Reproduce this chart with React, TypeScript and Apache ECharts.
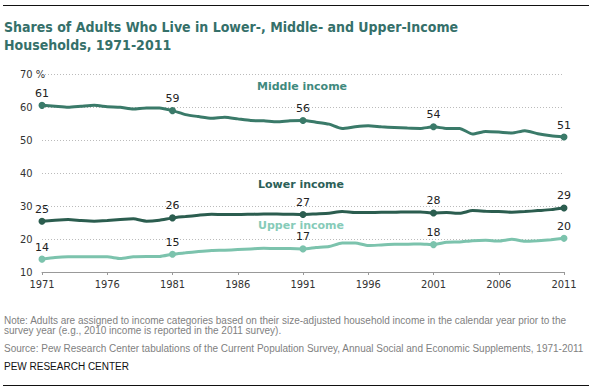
import React, { useEffect, useRef } from "react";
import * as echarts from "echarts";

const years = [
  "1971", "1972", "1973", "1974", "1975", "1976", "1977", "1978", "1979", "1980",
  "1981", "1982", "1983", "1984", "1985", "1986", "1987", "1988", "1989", "1990",
  "1991", "1992", "1993", "1994", "1995", "1996", "1997", "1998", "1999", "2000",
  "2001", "2002", "2003", "2004", "2005", "2006", "2007", "2008", "2009", "2010",
  "2011",
];

const middleIncome = [
  60.5, 60.2, 59.9, 60.2, 60.5, 60.1, 59.9, 59.4, 59.7, 59.7,
  58.9, 57.7, 57.1, 56.6, 56.9, 56.4, 55.9, 55.8, 55.5, 55.8,
  55.9, 55.4, 54.8, 53.5, 54.0, 54.3, 54.0, 53.8, 53.6, 53.5,
  54.0, 53.5, 53.5, 51.8, 52.6, 52.4, 52.1, 52.8, 51.9, 51.3,
  50.9,
];

const lowerIncome = [
  25.4, 25.7, 25.9, 25.6, 25.4, 25.6, 25.9, 26.1, 25.4, 25.7,
  26.4, 26.8, 27.2, 27.5, 27.4, 27.4, 27.5, 27.6, 27.6, 27.5,
  27.4, 27.6, 27.8, 28.3, 28.0, 28.0, 28.1, 28.1, 28.2, 28.2,
  27.9, 28.0, 27.8, 28.6, 28.4, 28.3, 28.1, 28.3, 28.6, 28.9,
  29.4,
];

const upperIncome = [
  13.9, 14.4, 14.6, 14.6, 14.6, 14.6, 14.1, 14.6, 14.7, 14.7,
  15.4, 15.8, 16.2, 16.5, 16.6, 16.8, 17.0, 17.2, 17.1, 17.1,
  17.0, 17.4, 17.7, 18.8, 18.8, 18.0, 18.2, 18.4, 18.4, 18.5,
  18.3, 19.0, 19.1, 19.5, 19.6, 19.4, 19.9, 19.3, 19.5, 19.8,
  20.2,
];

const seriesNames = ["Middle income", "Lower income", "Upper income"];
const labeledYears = ["1971", "1981", "1991", "2001", "2011"];

const titleLines = [
  "Shares of Adults Who Live in Lower-, Middle- and Upper-Income",
  "Households, 1971-2011",
];
const noteLines = [
  "Note: Adults are assigned to income categories based on their size-adjusted household income in the calendar year prior to the",
  "survey year (e.g., 2010 income is reported in the 2011 survey).",
];
const sourceLine =
  "Source: Pew Research Center tabulations of the Current Population Survey, Annual Social and Economic Supplements, 1971-2011";
const creditLine = "PEW RESEARCH CENTER";

const COLORS = ["#3a7a69", "#2b5d4f", "#7cc3ad"];
const NAME_COLORS = ["#3f8a7e", "#2c5f58", "#86cbb8"];

export default function App() {
  const ref = useRef<HTMLDivElement>(null);

  useEffect(() => {
    if (!ref.current) return;
    const chart = echarts.init(ref.current, null, { renderer: "svg" });

    const makeSeries = (name: string, data: number[], color: string) => ({
      name,
      type: "line",
      data,
      smooth: 0.2,
      symbol: "circle",
      symbolSize: (_v: any, p: any) => (labeledYears.includes(years[p.dataIndex]) ? 7 : 0),
      showAllSymbol: true,
      lineStyle: { color, width: 3 },
      itemStyle: { color },
      label: {
        show: true,
        position: "top",
        distance: 3,
        color: "#222",
        fontFamily: "DejaVu Sans",
        fontSize: 11,
        formatter: (p: any) =>
          labeledYears.includes(years[p.dataIndex]) ? String(Math.round(p.value)) : "",
      },
      emphasis: { disabled: true },
    });

    const fontTitle = 'bold 14px "DejaVu Sans Condensed", "DejaVu Sans"';
    const fontNote = '10px "Liberation Sans Narrow", "Liberation Sans"';

    chart.setOption({
      animation: false,
      grid: { left: 42, right: 28, top: 74, bottom: 117, containLabel: false },
      xAxis: {
        type: "category",
        data: years,
        boundaryGap: false,
        axisLine: { lineStyle: { color: "#999", width: 1 } },
        axisTick: { show: true, interval: 4, length: 3, lineStyle: { color: "#999" } },
        axisLabel: {
          interval: 4,
          margin: 7,
          color: "#333",
          fontFamily: '"DejaVu Sans Condensed", "DejaVu Sans"',
          fontSize: 11,
        },
        splitLine: { show: false },
      },
      yAxis: {
        type: "value",
        min: 10,
        max: 70,
        interval: 10,
        axisLine: { show: false },
        axisTick: { show: false },
        axisLabel: {
          align: "left",
          margin: 22,
          color: "#333",
          fontFamily: '"DejaVu Sans Condensed", "DejaVu Sans"',
          fontSize: 11,
          formatter: (v: number) => (v === 70 ? "70 %" : String(v)),
        },
        splitLine: { lineStyle: { color: "#bbb", type: [1, 2], width: 1 } },
      },
      series: [
        makeSeries(seriesNames[0], middleIncome, COLORS[0]),
        makeSeries(seriesNames[1], lowerIncome, COLORS[1]),
        makeSeries(seriesNames[2], upperIncome, COLORS[2]),
      ],
      graphic: [
        { type: "line", shape: { x1: 3, y1: 5.5, x2: 589, y2: 5.5 }, style: { stroke: "#111", lineWidth: 1 } },
        { type: "line", shape: { x1: 3, y1: 385.5, x2: 589, y2: 385.5 }, style: { stroke: "#111", lineWidth: 1 } },
        { type: "text", x: 4, y: 27, style: { text: titleLines[0], font: fontTitle, fill: "#35706a", verticalAlign: "middle" } },
        { type: "text", x: 4, y: 45, style: { text: titleLines[1], font: fontTitle, fill: "#35706a", verticalAlign: "middle" } },
        { type: "text", x: 302, y: 86, style: { text: seriesNames[0], font: 'bold 11px "DejaVu Sans"', fill: NAME_COLORS[0], align: "center", verticalAlign: "middle" } },
        { type: "text", x: 301, y: 184, style: { text: seriesNames[1], font: 'bold 11px "DejaVu Sans"', fill: NAME_COLORS[1], align: "center", verticalAlign: "middle" } },
        { type: "text", x: 301, y: 225, style: { text: seriesNames[2], font: 'bold 11px "DejaVu Sans"', fill: NAME_COLORS[2], align: "center", verticalAlign: "middle" } },
        { type: "text", x: 4, y: 320, style: { text: noteLines[0], font: fontNote, fill: "#7f7f7f", verticalAlign: "middle" } },
        { type: "text", x: 4, y: 330, style: { text: noteLines[1], font: fontNote, fill: "#7f7f7f", verticalAlign: "middle" } },
        { type: "text", x: 4, y: 348, style: { text: sourceLine, font: fontNote, fill: "#7f7f7f", verticalAlign: "middle" } },
        { type: "text", x: 4, y: 366, style: { text: creditLine, font: '10px "Liberation Sans Narrow", "Liberation Sans"', fill: "#111", verticalAlign: "middle" } },
      ],
    });

    return () => chart.dispose();
  }, []);

  return (
    <div
      ref={ref}
      style={{ position: "fixed", left: 0, top: 0, width: 592, height: 389, background: "#fff" }}
    />
  );
}
